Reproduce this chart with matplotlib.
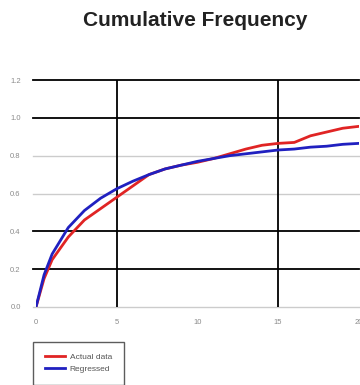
import matplotlib
matplotlib.use("Agg")
import matplotlib.pyplot as plt

x_actual = [0, 0.5, 1, 2, 3, 4, 5, 6, 7, 8, 9, 10, 11, 12, 13, 14, 15, 16, 17, 18, 19, 20]
y_actual = [0, 0.15, 0.25, 0.37, 0.46, 0.52, 0.58, 0.64, 0.70, 0.73, 0.75, 0.765, 0.785,
            0.81, 0.835, 0.855, 0.865, 0.87, 0.905, 0.925, 0.945, 0.955]
x_reg = [0, 0.5, 1, 2, 3, 4, 5, 6, 7, 8, 9, 10, 11, 12, 13, 14, 15, 16, 17, 18, 19, 20]
y_reg = [0, 0.17, 0.28, 0.42, 0.51, 0.575, 0.625, 0.665, 0.70, 0.73, 0.75, 0.77, 0.785,
         0.80, 0.81, 0.82, 0.83, 0.835, 0.845, 0.85, 0.86, 0.865]
x_ticks = [0, 5, 10, 15, 20]
x_tick_labels = ["0", "5", "10", "15", "20"]
y_ticks = [0.0, 0.2, 0.4, 0.6, 0.8, 1.0, 1.2]
y_tick_labels = ["0.0", "0.2", "0.4", "0.6", "0.8", "1.0", "1.2"]
series_names = ["Actual data", "Regressed"]
title = "Cumulative Frequency"

plt.rcParams['font.family'] = ['Liberation Sans', 'DejaVu Sans']
fig = plt.figure(figsize=(3.6, 3.85), dpi=100)
ax = fig.add_axes([0.1, 0.2026, 0.897, 0.5896])

# horizontal grid lines
ycols = ['#cccccc', 'black', 'black', '#cccccc', '#cccccc', 'black', 'black']
for yv, c in zip(y_ticks, ycols):
    ax.axhline(yv, xmin=-0.01, xmax=1.0, color=c, lw=1.3 if c == 'black' else 1.0,
               zorder=1, clip_on=False)
# vertical grid lines
for xv in [5, 15]:
    ax.axvline(xv, color='black', lw=1.3, zorder=1)

l1, = ax.plot(x_actual, y_actual, color='#e02424', lw=2.0, zorder=3, label=series_names[0])
l2, = ax.plot(x_reg, y_reg, color='#2020c0', lw=2.0, zorder=4, label=series_names[1])

ax.set_xlim(0, 20)
ax.set_ylim(0, 1.2)
ax.set_xticks(x_ticks)
ax.set_xticklabels(x_tick_labels)
ax.set_yticks(y_ticks)
ax.set_yticklabels(y_tick_labels)
for s in ax.spines.values():
    s.set_visible(False)
ax.tick_params(axis='both', labelsize=5.5, colors='#8a8a8a', length=3, width=0)
ax.tick_params(axis='x', pad=6)
ax.tick_params(axis='y', pad=8)

fig.text(0.542, 0.948, title, ha='center', va='center', fontsize=15, fontweight='bold', color='#222222')

leg = fig.legend(handles=[l1, l2], loc='upper left', bbox_to_anchor=(0.092, 0.112),
                 fontsize=6, frameon=True, fancybox=False, edgecolor='#333333',
                 handlelength=2.4, borderpad=1.4, labelspacing=0.45, handletextpad=0.6,
                 borderaxespad=0)
leg.get_frame().set_linewidth(1.0)
for t in leg.get_texts():
    t.set_color('#555555')

fig.savefig("out.png", dpi=100, facecolor='white')
